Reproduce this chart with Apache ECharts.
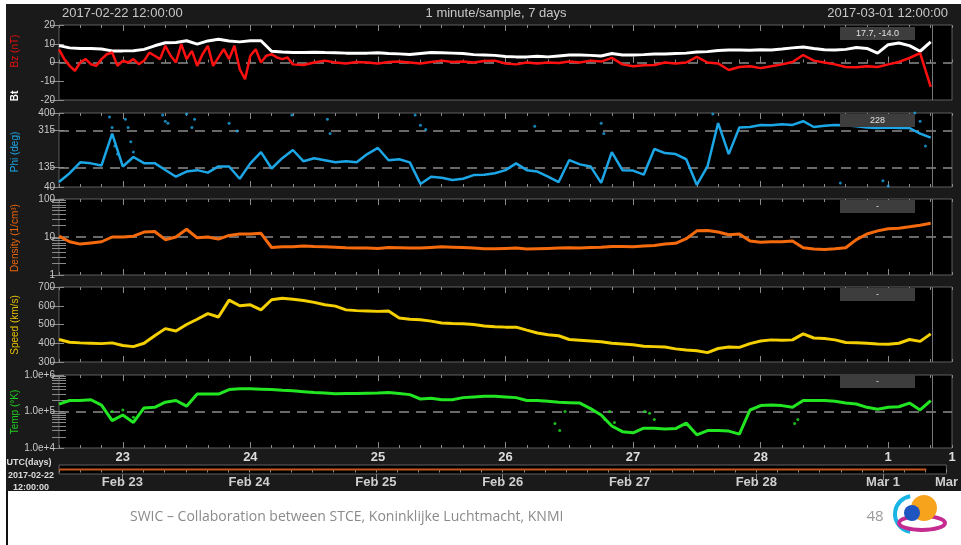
<!DOCTYPE html>
<html><head><meta charset="utf-8">
<script src="https://cdn.jsdelivr.net/npm/echarts@6/dist/echarts.min.js"></script>
<style>html,body{margin:0;padding:0;background:#fff;}#c{width:961px;height:545px;}</style>
</head><body><div id="c"></div>
<script>
// ---- data: hour 0 = 2017-02-22 12:00 UTC ----
const STEP_HOURS = 2;
const bt = [9,7.8,7.5,7.5,7.2,6.2,6.2,6.3,7,8.9, 10.5,10.7,11.6,9.8,11.5,12.4,11.5,11,11.6,11.6,
  6,5.6,5.3,5.3,5.5,5.3,5.2,5,5,5, 5.2,4.8,4.6,4.3,4.8,5.3,5.2,5,4.8,4.2,
  4,3.8,3.2,3,3,3.3,3,3.5,4,4, 3.8,3.5,4.8,4,4,4.2,4.5,4.5,4.8,5,
  5.6,5.8,6.4,6.7,6.7,6.5,6.8,6.7,7.2,7.8, 8.3,7.5,6.8,6.7,7,8,7.5,5,9.5,10.4, 9,6,11];
// Bz: hourly for hours 0-43, then every 2 hours from hour 44
const bzEarly = [7,1.8,-1.8,-4.4,0,1.8,-0.9,-1.8,1.8,4.4, 5.3,-1.8,0.9,0,1.8,-0.9,0.9,5.3,3.6,1.8,
  8.9,3.6,0,9.8,1.8,6.2,-1.8,4.4,8.9,-1.8, 2.7,7.1,1.8,8.9,-3.6,-8.9,3.6,7.1,0,3.6, 4.4,2.7,1.8,2.7];
const bzLate = [-1,-1.3,0,1,0,-0.5,0.3,0,
  -0.5,0.3,0.5,0,-0.5,0.3,1,0.3,0.5,0, 0.8,1,-0.5,-1,0,-0.5,0,-0.3,0.5,0,
  1,0.5,2.5,-1,-2,-1.5,-1.3,0,-0.5,0, 3,0,-0.5,-4,-2.4,-2,-3,-2,-1,0.3,
  4,1,0,-1,-2.4,-2.5,-2,-2.4,-1,0.3, 2.4,5,-13];
const phi = [64,107,160,155,145,300,140,186,156,156, 123,90,115,122,110,140,140,80,155,210,
  130,180,220,165,180,170,160,165,160,200, 230,170,175,160,55,90,85,74,80,98,
  100,107,122,155,122,115,90,64,171,150, 140,60,210,122,120,100,225,205,200,175,
  50,140,351,200,330,332,342,340,345,342, 360,332,338,342,340,335,330,327,330,327, 327,300,280];
const phiOutliers = [[9.5,380],[10,330],[10.5,240],[11,200],[12.5,370],[13,330],[13.5,260],[14,210],
  [19.5,390],[20,360],[20.5,350],[24,395],[25,330],[25.5,370],[32,350],[33.5,312],[43.8,390],
  [50.5,370],[51,300],[67,390],[68,340],[69,320],[89.5,335],[102,350],[102.5,300],[123,395],
  [147,60],[155,70],[156,45],[161,400],[162,360],[163,240]];
const density = [10.5,7.5,6.5,7,7.5,10,10,10.5,13.5,14, 8.5,10,16,9.5,10,8.8,11,12,12,12.5,
  5.3,5.5,5.5,5.8,5.6,5.5,5.4,5.2,5.1,5.1, 5,5.3,5.2,5.1,5.1,5.3,5.5,5.4,5.3,5.1,
  4.9,4.9,5,5.1,4.8,4.9,5,5.1,5.2,5.1, 5.3,5.4,5.6,5.6,5.5,5.8,6,6.5,6.8,9,
  14.5,14.8,13.5,11.5,12,7.8,7.3,7.5,7.5,7.8, 5.2,4.8,4.7,4.9,5.2,8.5,12,14.5,16.5,17, 18.5,20.5,23];
const speed = [420,405,402,400,398,402,388,382,400,440, 478,465,500,528,558,540,630,600,605,578,
  632,640,635,628,618,605,598,578,574,572, 570,572,535,528,525,518,508,505,504,500,
  492,488,486,486,470,455,445,440,420,416, 412,408,400,396,392,384,382,380,370,364,
  360,350,372,380,378,398,412,418,416,418, 450,428,425,418,404,403,400,396,395,400, 420,410,450];
const temp = [1.6e5,2.0e5,2.0e5,2.1e5,1.5e5,5.6e4,8e4,5e4,1.25e5,1.3e5,
  1.8e5,2.0e5,1.4e5,3.0e5,3.0e5,3.0e5,4.0e5,4.2e5,4.2e5,4.1e5,
  4.0e5,3.8e5,3.7e5,3.5e5,3.3e5,3.2e5,3.05e5,3.1e5,3.1e5,3.15e5,
  3.2e5,3.3e5,3.1e5,2.9e5,2.2e5,2.3e5,2.1e5,2.1e5,2.4e5,2.5e5,
  2.6e5,2.6e5,2.5e5,2.4e5,2.0e5,2.0e5,1.9e5,1.8e5,1.75e5,1.7e5,
  1.2e5,8e4,4e4,2.8e4,2.6e4,3.5e4,3.5e4,3.3e4,3.4e4,4.8e4,
  2.3e4,3.0e4,3.0e4,2.9e4,2.4e4,1.1e5,1.45e5,1.5e5,1.45e5,1.3e5,
  2.0e5,2.0e5,2.0e5,1.9e5,1.7e5,1.6e5,1.3e5,1.15e5,1.3e5,1.35e5, 1.7e5,1.1e5,2.0e5];
const tempOutliers = [[10,1e5],[12,1.1e5],[14,7e4],[93.3,4.7e4],[94.2,3e4],[95.2,1e5],[102.7,6e4],
  [103.6,1e5],[104.5,5e4],[110.2,1e5],[111.1,9e4],[112,6e4],[138.4,4.7e4],[139,6e4]];
const dayTicks = [12,36,60,84,108,132,156,168];
const dayLabels = ['23','24','25','26','27','28','1','1'];
const dateLabels = ['Feb 23','Feb 24','Feb 25','Feb 26','Feb 27','Feb 28','Mar 1','Mar'];
const nowHour = 164.2;
const coverage = [[0,0],[164.2,0]];
const phiTicks = [40,135,315,400];
const densMinor = [2,3,4,5,6,7,8,9,20,30,40,50,60,70,80,90];
const tempMinor = [2e4,3e4,4e4,5e4,6e4,7e4,8e4,9e4,2e5,3e5,4e5,5e5,6e5,7e5,8e5,9e5];
const refLines = [[0],[135,315],[10],[],[1e5]];
const infoTexts = ['17.7, -14.0','228','-','-','-'];

// ---- layout ----
const FONT = '"Liberation Sans", Arial, sans-serif';
const TICK = '#8a8a8a';
const X0 = 59, XW = 893;
const gridDefs = [[25,75],[113,74],[199,76],[287,75],[375,73],[465,9]];
const grid = gridDefs.map(([t,h]) => ({left:X0, width:XW, top:t, height:h, show:true,
  backgroundColor:'#000', borderColor:'#5e5e5e', borderWidth:1}));

const xAxis = [], xIdx = [];
gridDefs.forEach((g,i) => {
  const isBox = i === 5;
  const base = {type:'value', gridIndex:i, min:0, max:168, axisLine:{show:false},
    splitLine:{show:false}, axisLabel:{show:false}};
  xIdx.push(xAxis.length);
  xAxis.push({...base, position:'bottom', interval:4,
    axisTick:{show:true, inside:!isBox, length:3, lineStyle:{color:TICK}}});
  const major = {...base, position:'bottom',
    axisTick:{show:true, inside:!isBox, length:6, customValues:dayTicks.slice(0,7), lineStyle:{color:TICK}}};
  if (i === 4) major.axisLabel = {show:true, customValues:dayTicks, showMaxLabel:true,
    formatter:v => dayLabels[dayTicks.indexOf(v)], color:'#dcdcdc', fontSize:13, fontWeight:'bold', margin:3, fontFamily:FONT};
  if (i === 5) major.axisLabel = {show:true, customValues:dayTicks, showMaxLabel:true,
    formatter:v => dateLabels[dayTicks.indexOf(v)], color:'#cfcfcf', fontSize:13, fontWeight:'bold', margin:2, fontFamily:FONT};
  xAxis.push(major);
  if (!isBox) {
    xAxis.push({...base, position:'top', interval:4,
      axisTick:{show:true, inside:true, length:3, lineStyle:{color:TICK}}});
    xAxis.push({...base, position:'top',
      axisTick:{show:true, inside:true, length:6, customValues:dayTicks.slice(0,7), lineStyle:{color:TICK}}});
  }
});

const labelStyle = {color:'#c8c8c8', fontSize:10, fontFamily:FONT, margin:4};
const panels = [
  {type:'value', min:-20, max:20, interval:10},
  {type:'value', min:40, max:400, custom:phiTicks},
  {type:'log', min:1, max:100, minor:densMinor},
  {type:'value', min:300, max:700, interval:100},
  {type:'log', min:1e4, max:1e6, minor:tempMinor, fmt:v => Number(v).toExponential(1)},
  {type:'value', min:-1, max:1, hidden:true}
];
const yAxis = [], yIdx = [];
panels.forEach((p,i) => {
  const base = {type:p.type, gridIndex:i, min:p.min, max:p.max, splitLine:{show:false}, axisLine:{show:false}};
  if (p.type === 'log') base.logBase = 10;
  if (p.interval) base.interval = p.interval;
  yIdx.push(yAxis.length);
  if (p.hidden) { yAxis.push({...base, show:false}); return; }
  const lab = {...labelStyle, show:true};
  if (p.custom) lab.customValues = p.custom;
  if (p.fmt) lab.formatter = p.fmt;
  const tick = {show:true, inside:true, length:5, lineStyle:{color:TICK}};
  if (p.custom) tick.customValues = p.custom;
  yAxis.push({...base, position:'left', axisLabel:lab, axisTick:tick});
  yAxis.push({...base, position:'right', axisLabel:{show:false},
    axisTick:{...tick, length:9}});
  if (p.minor) {
    yAxis.push({...base, position:'left', axisLabel:{show:false},
      axisTick:{show:true, inside:true, length:7, customValues:p.minor, lineStyle:{color:TICK}}});
    yAxis.push({...base, position:'right', axisLabel:{show:false},
      axisTick:{show:true, inside:true, length:7, customValues:p.minor, lineStyle:{color:TICK}}});
  }
});

const pairs = arr => arr.map((v,i) => [i*STEP_HOURS, v]);
const bzPairs = bzEarly.map((v,i) => [i, v]).concat(bzLate.map((v,i) => [44 + i*STEP_HOURS, v]));
function marks(i) {
  const data = refLines[i].map(v => ({yAxis:v, lineStyle:{type:[10,7], color:'#8c8c8c', width:1.5}}));
  data.push({xAxis:nowHour, lineStyle:{type:'solid', color:'#777', width:1}});
  return {silent:true, symbol:'none', label:{show:false}, z:1, animation:false, data};
}
function line(i, data, color, width, withMarks) {
  const s = {type:'line', xAxisIndex:xIdx[i], yAxisIndex:yIdx[i], data,
    showSymbol:false, symbol:'none', z:3, lineStyle:{color, width}, itemStyle:{color}, silent:true};
  if (withMarks) s.markLine = marks(i);
  return s;
}
function dots(i, data, color) {
  return {type:'scatter', xAxisIndex:xIdx[i], yAxisIndex:yIdx[i], data, symbolSize:3,
    itemStyle:{color}, z:3, silent:true};
}
const series = [
  line(0, pairs(bt), '#ffffff', 3, true),
  line(0, bzPairs, '#ff1010', 2.5, false),
  line(1, pairs(phi), '#1ca6e6', 2.5, true),
  dots(1, phiOutliers, '#1ca6e6'),
  line(2, pairs(density), '#f56a0c', 3, true),
  line(3, pairs(speed), '#f5d000', 3, true),
  line(4, pairs(temp), '#22e622', 3, true),
  dots(4, tempOutliers, '#22e622'),
  {type:'line', xAxisIndex:xIdx[5], yAxisIndex:yIdx[5], data:coverage, showSymbol:false,
    lineStyle:{color:'#c4541c', width:2}, silent:true}
];

// ---- annotations ----
const g = [];
const txt = (x,y,text,o={}) => ({type:'text', x, y, z:o.z||60, rotation:o.rot||0,
  style:{text, fill:o.fill||'#c8c8c8', font:o.font||('13px '+FONT), align:o.align||'left', verticalAlign:'middle'}});
g.push({type:'rect', shape:{x:0,y:0,width:961,height:4}, style:{fill:'#fff'}, z:100});
g.push({type:'rect', shape:{x:0,y:0,width:6,height:545}, style:{fill:'#fff'}, z:100});
g.push(txt(62,13,'2017-02-22 12:00:00'));
g.push(txt(496,13,'1 minute/sample, 7 days',{align:'center'}));
g.push(txt(948,13,'2017-03-01 12:00:00',{align:'right'}));
const R = Math.PI/2;
g.push(txt(15,51,'Bz (nT)',{rot:R, align:'center', fill:'#e01010', font:'10px '+FONT}));
g.push(txt(15,96,'Bt',{rot:R, align:'center', fill:'#ffffff', font:'bold 10px '+FONT}));
g.push(txt(15,152,'Phi (deg)',{rot:R, align:'center', fill:'#1ca6e6', font:'10px '+FONT}));
g.push(txt(15,238,'Density (1/cm³)',{rot:R, align:'center', fill:'#e8660c', font:'10px '+FONT}));
g.push(txt(15,325,'Speed (km/s)',{rot:R, align:'center', fill:'#e6c000', font:'10px '+FONT}));
g.push(txt(15,412,'Temp (°K)',{rot:R, align:'center', fill:'#20cf20', font:'10px '+FONT}));
const boxY = [27,114,200,288,375];
boxY.forEach((y,i) => {
  g.push({type:'rect', shape:{x:840,y,width:75,height:13}, style:{fill:'#3d3d3d'}, z:50});
  g.push(txt(877.5,y+6.5,infoTexts[i],{align:'center', fill:'#e0e0e0', font:'9px '+FONT, z:51}));
});
g.push(txt(29,463,'UTC(days)',{align:'center', fill:'#dcdcdc', font:'bold 9px '+FONT}));
g.push(txt(31,476,'2017-02-22',{align:'center', fill:'#dcdcdc', font:'bold 9px '+FONT}));
g.push(txt(31,488,'12:00:00',{align:'center', fill:'#dcdcdc', font:'bold 9px '+FONT}));
// footer
g.push({type:'rect', shape:{x:0,y:491,width:961,height:54}, style:{fill:'#fff'}, z:100});
g.push({type:'rect', shape:{x:6,y:491,width:2,height:54}, style:{fill:'#111'}, z:101});
g.push(txt(130,517,'SWIC – Collaboration between STCE, Koninklijke Luchtmacht, KNMI',{fill:'#8a8a8a', font:'14px "Open Sans", '+FONT, z:102}));
g.push(txt(875,517,'48',{align:'center', fill:'#9a9a9a', font:'15px "Open Sans", '+FONT, z:102}));
g.push({type:'arc', shape:{cx:913,cy:514,r:18,startAngle:Math.PI*0.55,endAngle:Math.PI*1.45}, style:{stroke:'#19b5e6', lineWidth:4, fill:null}, z:102});
g.push({type:'ellipse', shape:{cx:922,cy:523,rx:23,ry:7}, style:{stroke:'#c42a90', lineWidth:4, fill:null}, z:102});
g.push({type:'circle', shape:{cx:924,cy:508,r:13}, style:{fill:'#f7a41c'}, z:103});
g.push({type:'circle', shape:{cx:912,cy:513,r:8}, style:{fill:'#1f55c0'}, z:104});

const chart = echarts.init(document.getElementById('c'), null, {renderer:'canvas'});
chart.setOption({
  backgroundColor:'#1a1a1a',
  animation:false,
  textStyle:{fontFamily:FONT},
  grid, xAxis, yAxis, series,
  graphic:{elements:g}
});
</script></body></html>
